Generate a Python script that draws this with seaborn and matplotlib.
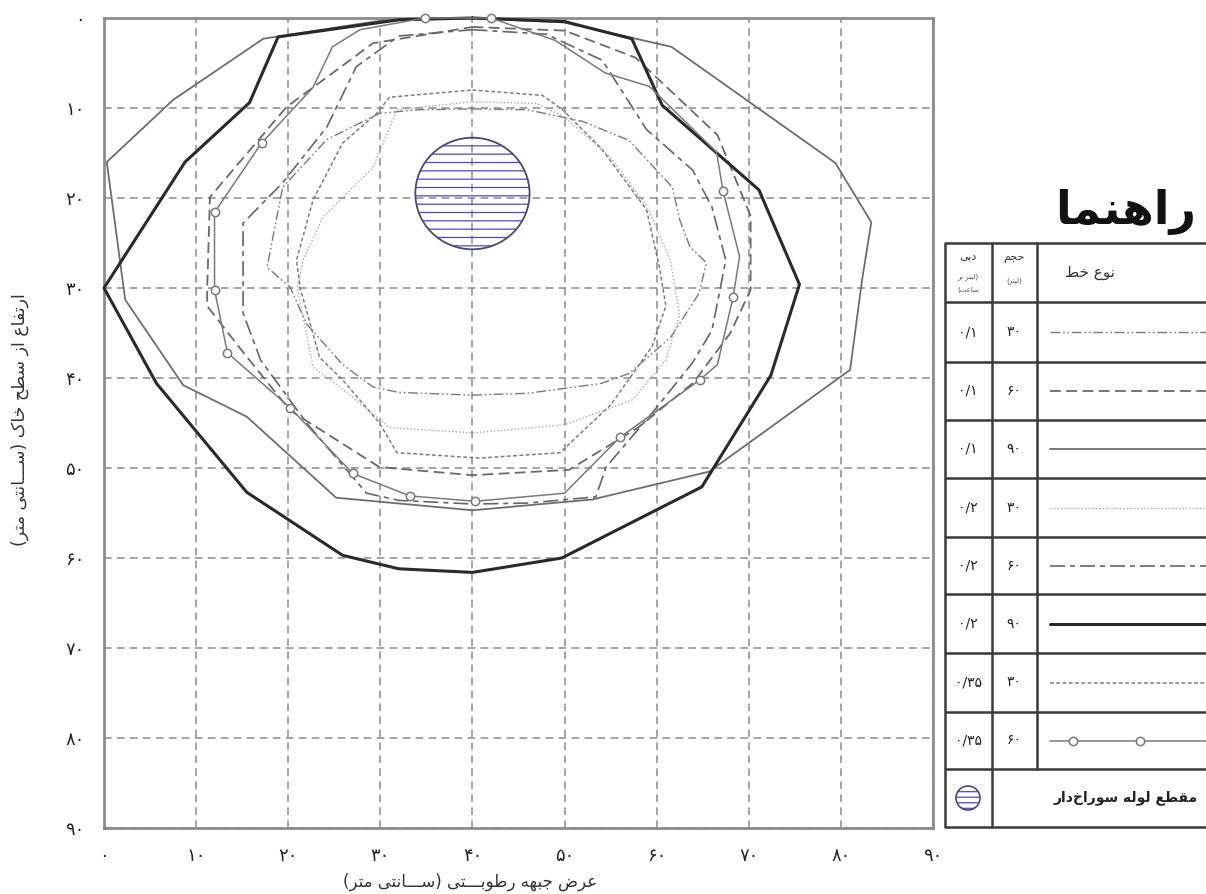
import matplotlib
matplotlib.use("Agg")
import matplotlib.pyplot as plt
from matplotlib.patches import Circle
import seaborn as sns

# wetting front outlines
# x = width of wetting front (cm), y = depth below soil surface (cm)
q01_v30_x = [40, 46, 52, 57, 61.7, 62.5, 63.6, 65.4, 64.6, 61.5, 57, 54, 46, 40, 32, 29.2, 25.9, 22, 20.2, 17.7, 19.4, 24.2, 29.9, 34, 40]
q01_v30_y = [10.1, 10.2, 11.5, 13.6, 18.8, 22.4, 25.4, 27.2, 30.6, 35.5, 39.5, 40.6, 41.7, 41.9, 41.6, 41, 38.5, 34, 29.9, 27.7, 18.8, 13.5, 10.6, 10.2, 10.1]

q01_v60_x = [40, 50, 57.7, 66.6, 70.2, 70.2, 68, 64, 58, 50.5, 40, 29.9, 20.2, 15, 11.2, 11.2, 11.5, 19.8, 29.2, 40]
q01_v60_y = [1.0, 1.4, 4.4, 13, 22, 30.2, 35, 40.5, 45.5, 50.2, 50.8, 49.9, 43.6, 37, 32, 30.2, 19.9, 9.9, 2.8, 1.0]

q01_v90_x = [40, 50, 61.6, 79.4, 83.3, 82.3, 81, 65.7, 53, 40, 25.2, 15.5, 8.6, 2.3, 0.3, 7.5, 17.3, 30, 40]
q01_v90_y = [0, 0.5, 3.2, 16.1, 22.7, 29.1, 39.1, 50.4, 53.5, 54.7, 53.3, 44.3, 40.8, 31.3, 16, 9.1, 2.3, 0.3, 0]

q02_v30_x = [40, 47, 50, 55, 59, 61.5, 62.5, 61, 57.4, 50, 40, 31, 25.6, 22.7, 21, 21.6, 23.8, 29.2, 31.8, 40]
q02_v30_y = [9.3, 9.5, 11, 15.5, 21, 27, 33, 38, 42.4, 45.2, 46.1, 45.5, 41, 38.8, 30, 26.9, 22.1, 16.6, 10.2, 9.3]

q02_v60_x = [40, 48, 54.1, 58.9, 63.9, 66, 67.5, 66.8, 66, 63.9, 59.5, 54.5, 53.4, 46, 40, 32, 28.5, 22, 17, 15.1, 15.1, 19.4, 24.2, 27.4, 32, 40]
q02_v60_y = [1.3, 1.8, 4.7, 12.4, 16.9, 21, 26.9, 30.6, 34.7, 38.3, 43.9, 49.9, 53.2, 53.9, 54.0, 53.6, 52.8, 45, 38, 32.8, 22.8, 18.3, 12.1, 5.4, 2.0, 1.3]

q02_v90_x = [40, 50, 57.3, 60.6, 71.1, 75.5, 72.4, 64.9, 49.7, 40, 32, 25.9, 15.5, 5.7, 0, 8.8, 15.8, 18.9, 32, 40]
q02_v90_y = [0, 0.4, 2.3, 9.7, 19.1, 29.6, 39.7, 52.1, 60, 61.6, 61.2, 59.7, 52.7, 40.6, 30, 16, 9.4, 2.1, 0.2, 0]

q035_v30_x = [40, 47.6, 49.8, 54, 58.9, 60.3, 61, 59.5, 55, 49.5, 40.8, 31.8, 29.9, 25.9, 23.4, 21.3, 20.9, 22.7, 25.9, 29.6, 31, 40]
q035_v30_y = [8.0, 8.6, 10.2, 14.5, 21.3, 27.7, 32, 36.5, 43, 48.3, 48.9, 48.3, 45, 40.2, 37.7, 30, 26.9, 20.2, 13.9, 10.6, 8.8, 8.0]

q035_v60_x = [34.8, 42, 49, 54.4, 59.2, 66.5, 67.2, 69, 68.3, 66.6, 64.7, 56, 50, 40.3, 33.2, 27, 20.2, 13.4, 12, 12, 17.1, 22.7, 24.8, 27.8, 34.8]
q035_v60_y = [0, 0, 2.5, 6.1, 7.6, 14.9, 19.2, 26.5, 31, 38.5, 40.2, 46.6, 52.8, 53.7, 53.1, 50.6, 43.3, 37.2, 30.2, 21.6, 13.9, 7.7, 3.2, 1.3, 0]
q035_v60_marks = [0, 1, 6, 8, 10, 11, 13, 14, 15, 16, 17, 18, 19, 20]

# emitter (perforated pipe) cross section
pipe_x, pipe_y, pipe_r = 40, 19.5, 6.2

# legend table rows
discharges = ["0/1", "0/1", "0/1", "0/2", "0/2", "0/2", "0/35", "0/35"]
volumes = ["30", "60", "90", "30", "60", "90", "30", "60"]
ticks = list(range(0, 91, 10))

# ---------------------------------------------------------------
# minimal Persian shaping (matplotlib has no RTL / joining support)
FORMS = {  # isolated, final, initial, medial
    'ا': (0xFE8D, 0xFE8E, None, None),
    'ب': (0xFE8F, 0xFE90, 0xFE91, 0xFE92),
    'ت': (0xFE95, 0xFE96, 0xFE97, 0xFE98),
    'ج': (0xFE9D, 0xFE9E, 0xFE9F, 0xFEA0),
    'ح': (0xFEA1, 0xFEA2, 0xFEA3, 0xFEA4),
    'خ': (0xFEA5, 0xFEA6, 0xFEA7, 0xFEA8),
    'د': (0xFEA9, 0xFEAA, None, None),
    'ر': (0xFEAD, 0xFEAE, None, None),
    'ز': (0xFEAF, 0xFEB0, None, None),
    'س': (0xFEB1, 0xFEB2, 0xFEB3, 0xFEB4),
    'ض': (0xFEBD, 0xFEBE, 0xFEBF, 0xFEC0),
    'ط': (0xFEC1, 0xFEC2, 0xFEC3, 0xFEC4),
    'ع': (0xFEC9, 0xFECA, 0xFECB, 0xFECC),
    'ف': (0xFED1, 0xFED2, 0xFED3, 0xFED4),
    'ق': (0xFED5, 0xFED6, 0xFED7, 0xFED8),
    'ک': (0xFB8E, 0xFB8F, 0xFB90, 0xFB91),
    'ل': (0xFEDD, 0xFEDE, 0xFEDF, 0xFEE0),
    'م': (0xFEE1, 0xFEE2, 0xFEE3, 0xFEE4),
    'ن': (0xFEE5, 0xFEE6, 0xFEE7, 0xFEE8),
    'ه': (0xFEE9, 0xFEEA, 0xFEEB, 0xFEEC),
    'و': (0xFEED, 0xFEEE, None, None),
    'ی': (0xFBFC, 0xFBFD, 0xFBFE, 0xFBFF),
}
TATWEEL = 'ـ'


def joins_next(c):
    return c == TATWEEL or (c in FORMS and FORMS[c][2] is not None)


def joins_prev(c):
    return c == TATWEEL or c in FORMS


def fa(text):
    out = []
    for i, c in enumerate(text):
        if c not in FORMS:
            if c != '\u200c':
                out.append(c)
            continue
        prev = text[i - 1] if i > 0 else ''
        nxt = text[i + 1] if i + 1 < len(text) else ''
        p = joins_next(prev) if prev else False
        n = joins_next(c) and (joins_prev(nxt) if nxt else False)
        iso, fin, ini, med = FORMS[c]
        if p and n:
            code = med
        elif p:
            code = fin
        elif n:
            code = ini
        else:
            code = iso
        out.append(chr(code))
    vis = ''.join(out)[::-1]
    return vis.translate(str.maketrans('()', ')('))


def fa_digits(s):
    return str(s).translate(str.maketrans('0123456789', '۰۱۲۳۴۵۶۷۸۹'))


# ---------------------------------------------------------------
sns.set_style("white")
plt.rcParams['font.family'] = ['DejaVu Sans']
plt.rcParams['hatch.linewidth'] = 0.9

W, H = 1206, 894
fig = plt.figure(figsize=(W / 100, H / 100), dpi=100)
ax = fig.add_axes([104 / W, 1 - 828 / H, (933 - 104) / W, (828 - 18) / H])

series = [
    (q01_v30_x, q01_v30_y, dict(color='#7a7a7a', lw=1.0, linestyle=(0, (7, 2, 1.2, 2, 1.2, 2)))),
    (q01_v60_x, q01_v60_y, dict(color='#6a6a6a', lw=1.3, linestyle=(0, (6, 3)))),
    (q01_v90_x, q01_v90_y, dict(color='#6e6e6e', lw=1.3, linestyle='-')),
    (q02_v30_x, q02_v30_y, dict(color='#a8a8a8', lw=1.0, linestyle=(0, (1, 1.5)))),
    (q02_v60_x, q02_v60_y, dict(color='#666666', lw=1.2, linestyle=(0, (9, 3, 3, 3)))),
    (q02_v90_x, q02_v90_y, dict(color='#2a2a2a', lw=2.2, linestyle='-')),
    (q035_v30_x, q035_v30_y, dict(color='#7e7e7e', lw=1.1, linestyle=(0, (2.5, 1.6)))),
    (q035_v60_x, q035_v60_y, dict(color='#7a7a7a', lw=1.1, linestyle='-', marker='o',
                                  markevery=q035_v60_marks, markersize=6,
                                  markerfacecolor='white', markeredgecolor='#7a7a7a',
                                  markeredgewidth=1.1)),
]

for xs, ys, st in series:
    sns.lineplot(x=xs, y=ys, sort=False, estimator=None, ax=ax, clip_on=False, zorder=3, **st)

# perforated pipe
ax.add_patch(Circle((pipe_x, pipe_y), pipe_r, facecolor='none', edgecolor='#4848d8',
                    hatch='--', lw=0, zorder=4))
ax.add_patch(Circle((pipe_x, pipe_y), pipe_r, facecolor='none', edgecolor='#4a4a70',
                    lw=1.3, zorder=5))

ax.set_xlim(0, 90)
ax.set_ylim(90, 0)
ax.set_xticks(ticks)
ax.set_yticks(ticks)
ax.set_xticklabels([fa_digits(t) for t in ticks])
ax.set_yticklabels([fa_digits(t) for t in ticks])
ax.tick_params(axis='x', length=6, width=1, color='#999999', labelsize=13, pad=8)
ax.tick_params(axis='y', length=6, width=1, color='#999999', labelsize=13, pad=8)
ax.grid(True, color='#8c8c8c', linestyle=(0, (5, 3.5)), linewidth=1.1)
ax.set_axisbelow(True)
for s in ax.spines.values():
    s.set_color('#8c8c8c')
    s.set_linewidth(2)
ax.set_xlabel('')
ax.set_ylabel('')

fig.text(470 / W, 1 - 882 / H, fa('عرض جبهه رطوبـــتی (ســـانتی متر)'),
         ha='center', va='center', fontsize=12, color='#333333')
fig.text(20 / W, 1 - 420 / H, fa('ارتفاع از سطح خاک (ســـانتی متر)'),
         ha='center', va='center', rotation=90, fontsize=12.5, color='#333333')

# ---------------------------------------------------------------
# legend table, drawn in pixel units
lax = fig.add_axes([930 / W, 1 - 840 / H, (W - 930) / W, (840 - 180) / H])
lax.set_xlim(930, W)
lax.set_ylim(840, 180)
lax.axis('off')

rows = [243, 302, 362, 420, 478, 537, 594, 653, 712, 769, 827]
cols = [945, 992, 1037]
lc = '#3a3a3a'
for r in rows:
    lax.plot([cols[0], W], [r, r], color=lc, lw=1.8, solid_capstyle='butt')
lax.plot([cols[0], cols[0]], [rows[0], rows[-1]], color=lc, lw=1.8)
lax.plot([cols[1], cols[1]], [rows[0], rows[-1]], color=lc, lw=1.8)
lax.plot([cols[2], cols[2]], [rows[0], rows[-2]], color=lc, lw=1.8)

lax.text(1196, 212, fa('راهنما'), ha='right', va='center', fontsize=33,
         fontweight='bold', color='#111111')

lax.text(1090, 273, fa('نوع خط'), ha='center', va='center', fontsize=11, color='#333333')
lax.text(1014, 259, fa('حجم'), ha='center', va='center', fontsize=8, color='#333333')
lax.text(1014, 281, fa('(لیتر)'), ha='center', va='center', fontsize=5, color='#555555')
lax.text(968, 256, fa('دبی'), ha='center', va='center', fontsize=8, color='#333333')
lax.text(968, 277, fa('(لیتر بر'), ha='center', va='center', fontsize=5, color='#555555')
lax.text(968, 290, fa('ساعت)'), ha='center', va='center', fontsize=5, color='#555555')

for i, (q, v, (xs, ys, st)) in enumerate(zip(discharges, volumes, series)):
    yc = (rows[i + 1] + rows[i + 2]) / 2
    lax.text(968, yc, fa_digits(q), ha='center', va='center', fontsize=10, color='#222222')
    lax.text(1014, yc, fa_digits(v), ha='center', va='center', fontsize=10, color='#222222')
    sample = dict(st)
    if 'markevery' in sample:
        sample['markevery'] = [1, 2]
        lax.plot([1050, 1073, 1140, W], [yc] * 4, clip_on=False, **sample)
    else:
        lax.plot([1050, W], [yc, yc], clip_on=False, **sample)

ycirc = (rows[-2] + rows[-1]) / 2
lax.add_patch(Circle((968, ycirc), 12, facecolor='none', edgecolor='#4848d8', hatch='---', lw=0))
lax.add_patch(Circle((968, ycirc), 12, facecolor='none', edgecolor='#4a4a70', lw=1.2))
lax.text(1198, ycirc, fa('مقطع لوله سوراخ‌دار'), ha='right', va='center', fontsize=10,
         fontweight='bold', color='#222222')

fig.savefig('out.png', dpi=100)
